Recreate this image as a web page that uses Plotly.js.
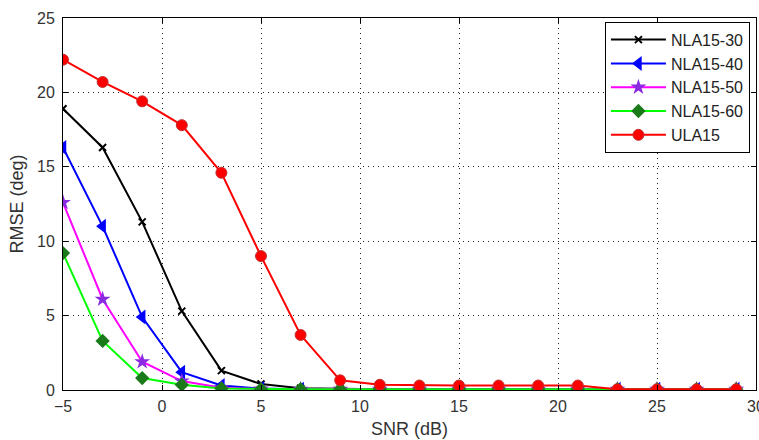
<!DOCTYPE html>
<html>
<head>
<meta charset="utf-8">
<script src="https://cdn.plot.ly/plotly-3.0.1.min.js"></script>
<style>body{margin:0;padding:0;background:#fff;}#chart{width:759px;height:440px;}</style>
</head>
<body>
<div id="chart"></div>
<script>
const snr = [-5,-3,-1,1,3,5,7,9,11,13,15,17,19,21,23,25,27,29];
const nla30 = [18.9,16.3,11.3,5.3,1.3,0.4,0.12,0.06,0.05,0.05,0.05,0.05,0.05,0.05,0.05,0.05,0.05,0.05];
const nla40 = [16.3,11.0,4.9,1.2,0.3,0.1,0.05,0.05,0.05,0.05,0.05,0.05,0.05,0.05,0.05,0.05,0.05,0.05];
const nla50 = [12.6,6.1,1.9,0.6,0.15,0.06,0.05,0.05,0.05,0.05,0.05,0.05,0.05,0.05,0.05,0.05,0.05,0.05];
const nla60 = [9.2,3.3,0.8,0.35,0.1,0.05,0.05,0.05,0.05,0.05,0.05,0.05,0.05,0.05,0.05,0.05,0.05,0.05];
const ula15 = [22.2,20.7,19.4,17.8,14.6,9.0,3.7,0.65,0.35,0.3,0.3,0.3,0.3,0.3,0.05,0.05,0.05,0.05];
const names = ["NLA15-30","NLA15-40","NLA15-50","NLA15-60","ULA15"];

const traces = [
  {x:snr,y:nla30,name:names[0],mode:'lines+markers',line:{color:'#000000',width:2},
   marker:{symbol:'x-thin',size:7,line:{color:'#000000',width:2}}},
  {x:snr,y:nla40,name:names[1],mode:'lines+markers',line:{color:'#0000ff',width:2},
   marker:{symbol:'triangle-left',size:13,color:'#0000ff',line:{color:'#0000ff',width:0}}},
  {x:snr,y:nla50,name:names[2],mode:'lines+markers',line:{color:'#ff00ff',width:2},
   marker:{symbol:'star',size:12,color:'#8a2be2',line:{color:'#8a2be2',width:0}}},
  {x:snr,y:nla60,name:names[3],mode:'lines+markers',line:{color:'#00ff00',width:2},
   marker:{symbol:'diamond',size:11,color:'#1a7a1a',line:{color:'#1a7a1a',width:0}}},
  {x:snr,y:ula15,name:names[4],mode:'lines+markers',line:{color:'#ff0000',width:2},
   marker:{symbol:'circle',size:11,color:'#ff0000',line:{color:'#c03030',width:1}}}
];

const fam = '"Liberation Sans", Arial, sans-serif';
const font = {family:fam, size:16, color:'#333'};
const layout = {
  width:759, height:440,
  margin:{l:63,r:3,t:18,b:50},
  paper_bgcolor:'#fff', plot_bgcolor:'#fff',
  font:font,
  showlegend:true,
  xaxis:{range:[-5,30],dtick:5,tick0:-5,showgrid:true,gridcolor:'#222',griddash:'1px,4px',gridwidth:1,
    zeroline:false,showline:true,linecolor:'#000',linewidth:1,mirror:'ticks',ticks:'inside',ticklen:5,tickcolor:'#000',
    ticklabeloverflow:'allow',ticklabelstandoff:2,
    title:{text:'SNR (dB)',font:{family:fam,size:18,color:'#333'},standoff:8},tickfont:font},
  yaxis:{range:[0,25],dtick:5,showgrid:true,gridcolor:'#222',griddash:'1px,4px',gridwidth:1,
    zeroline:false,showline:true,linecolor:'#000',linewidth:1,mirror:'ticks',ticks:'inside',ticklen:5,tickcolor:'#000',
    ticklabelstandoff:4,
    title:{text:'RMSE (deg)',font:{family:fam,size:18,color:'#333'},standoff:8},tickfont:font},
  legend:{x:0.782,y:0.99,xanchor:'left',yanchor:'top',bgcolor:'#fff',bordercolor:'#000',borderwidth:1,
    font:{family:fam,size:16,color:'#222'},tracegroupgap:0,itemwidth:55}
};
Plotly.newPlot('chart',traces,layout,{displayModeBar:false,staticPlot:true});
</script>
</body>
</html>
